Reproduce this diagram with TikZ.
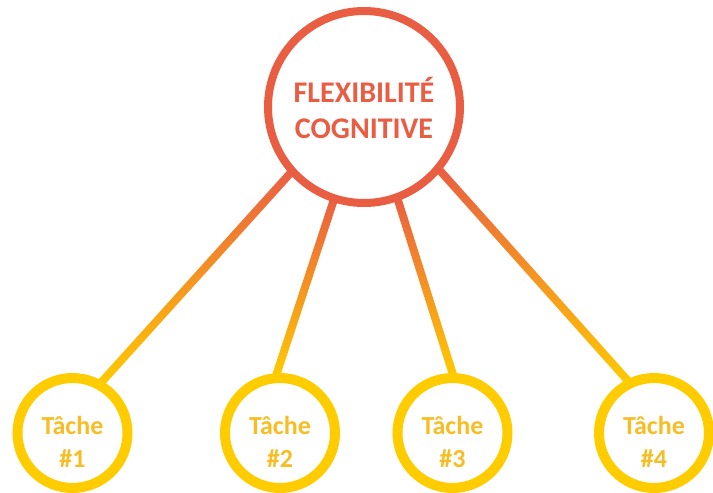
\documentclass[tikz,border=0pt]{standalone}
\usepackage{fontspec}
\setmainfont{Carlito}
\usepackage{tikz}
\usetikzlibrary{calc, backgrounds}
\definecolor{cogred}{RGB}{233, 93, 67}
\definecolor{linkmid}{RGB}{243, 158, 96}
\definecolor{taskyellow}{RGB}{255, 204, 0}
\definecolor{tasktext}{RGB}{246, 190, 36}

% thick link with a red-to-yellow shading
\newcommand{\gradlink}[2]{%
  \path ($(#1)!-6pt!(#2)$) coordinate (la) ($(#2)!-6pt!(#1)$) coordinate (lb);
  \shade[top color=cogred, middle color=linkmid, bottom color=taskyellow]
    ($(la)!4pt!90:(lb)$) -- ($(la)!4pt!-90:(lb)$) -- ($(lb)!4pt!90:(la)$) -- ($(lb)!4pt!-90:(la)$) -- cycle;}

\begin{document}
\begin{tikzpicture}[x=1pt, y=-1pt,
    main/.style={draw=cogred, circle, line width=8pt, fill=white, minimum size=192pt, inner sep=0pt, align=center, text=cogred, font=\fontsize{30}{36}\selectfont\bfseries, text height=64pt, text depth=2pt},
    task/.style={draw=taskyellow, circle, line width=10pt, fill=white, minimum size=110pt, inner sep=0pt, align=center, text=tasktext, font=\fontsize{26}{33}\selectfont\bfseries, text height=70pt, text depth=2pt}]
\useasboundingbox (0,0) rectangle (713,493);

\node[main] (flex) at (364,107) {FLEXIBILITÉ\\COGNITIVE};
\node[task] (t1) at (72.5,433) {Tâche\\\#1};
\node[task] (t2) at (280,433) {Tâche\\\#2};
\node[task] (t3) at (452.5,433) {Tâche\\\#3};
\node[task] (t4) at (654,433) {Tâche\\\#4};

\begin{scope}[on background layer]
\foreach \from/\to in {flex.222/t1.60, flex.252/t2.93, flex.290/t3.90, flex.320/t4.117}
  {\gradlink{\from}{\to}}
\end{scope}
\end{tikzpicture}
\end{document}
